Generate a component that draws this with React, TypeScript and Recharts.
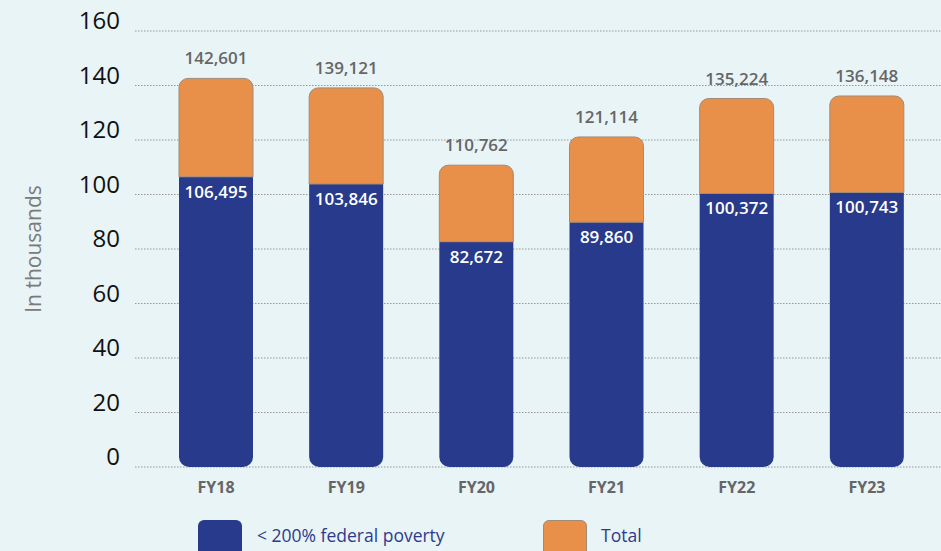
import React from 'react';
import { BarChart, Bar, XAxis, YAxis, CartesianGrid, LabelList, Legend } from 'recharts';

const categories = ['FY18', 'FY19', 'FY20', 'FY21', 'FY22', 'FY23'];
const povertyValues = [106495, 103846, 82672, 89860, 100372, 100743];
const totalValues = [142601, 139121, 110762, 121114, 135224, 136148];
const yTicks = [0, 20, 40, 60, 80, 100, 120, 140, 160];
const seriesNames = ['< 200% federal poverty', 'Total'];
const axisTitle = 'In thousands';

const BLUE = '#283a8b';
const ORANGE = '#e8904a';
const BG = '#e8f4f6';
const FONT = '"Open Sans", "Noto Sans", sans-serif';

const fmt = (n: number) => n.toLocaleString('en-US');

const data = categories.map((c, i) => ({
  name: c,
  poverty: povertyValues[i] / 1000,
  rest: (totalValues[i] - povertyValues[i]) / 1000,
  povertyLabel: fmt(povertyValues[i]),
  totalLabel: fmt(totalValues[i]),
}));

const YTick = (props: any) => {
  const { y, payload } = props;
  return (
    <text x={120} y={y - 2} textAnchor="end" fontSize={24} fill="#111" fontFamily={FONT}>
      {payload.value}
    </text>
  );
};

const XTick = (props: any) => {
  const { x, y, payload } = props;
  return (
    <text x={x} y={y + 18} textAnchor="middle" fontSize={16} fontWeight={700} fill="#666" fontFamily={FONT}>
      {payload.value}
    </text>
  );
};

const TotalLabel = (props: any) => {
  const { x, y, width, value } = props;
  return (
    <text x={x + width / 2} y={y - 14} textAnchor="middle" fontSize={17} fontWeight={600} fill="#666" fontFamily={FONT}>
      {value}
    </text>
  );
};

const PovertyLabel = (props: any) => {
  const { x, y, width, value } = props;
  return (
    <text x={x + width / 2} y={y + 21} textAnchor="middle" fontSize={17} fontWeight={600} fill="#ffffff" fontFamily={FONT}>
      {value}
    </text>
  );
};

const LegendContent = () => (
  <div style={{ position: 'relative', width: 941, height: 551, pointerEvents: 'none', fontFamily: FONT }}>
    <div style={{ position: 'absolute', left: 198, top: 520, width: 44, height: 40, background: BLUE, borderRadius: 6 }} />
    <div style={{ position: 'absolute', left: 257, top: 524, fontSize: 17.5, color: '#2e3b8c', lineHeight: '22px', whiteSpace: 'nowrap' }}>
      {seriesNames[0]}
    </div>
    <div style={{ position: 'absolute', left: 543, top: 520, width: 44, height: 40, background: ORANGE, borderRadius: 6, boxSizing: 'border-box', border: '1px solid #a08a78' }} />
    <div style={{ position: 'absolute', left: 601, top: 524, fontSize: 17.5, color: '#2e3b8c', lineHeight: '22px', whiteSpace: 'nowrap' }}>
      {seriesNames[1]}
    </div>
  </div>
);

export default function App() {
  return (
    <div style={{ position: 'absolute', left: 0, top: 0, width: 941, height: 551, background: BG, overflow: 'hidden' }}>
      <BarChart width={941} height={551} data={data} margin={{ top: 31, right: 0, bottom: 54, left: 0 }}>
        <CartesianGrid vertical={false} stroke="#999" strokeDasharray="1.5 1.5" />
        <XAxis
          dataKey="name"
          height={30}
          axisLine={false}
          tickLine={false}
          tick={<XTick />}
          padding={{ left: 16, right: 9 }}
        />
        <YAxis
          width={135}
          domain={[0, 160]}
          ticks={yTicks}
          axisLine={false}
          tickLine={false}
          tick={<YTick />}
          label={{
            value: axisTitle,
            content: () => (
              <text
                x={33}
                y={249}
                transform="rotate(-90 33 249)"
                textAnchor="middle"
                dominantBaseline="central"
                fontSize={21}
                fill="#7a7a7a"
                fontFamily={FONT}
              >
                {axisTitle}
              </text>
            ),
          }}
        />
        <Legend
          layout="vertical"
          verticalAlign="middle"
          align="center"
          content={<LegendContent />}
          wrapperStyle={{ position: 'absolute', left: 0, top: 0, width: 941, height: 551 }}
        />
        <Bar dataKey="poverty" stackId="a" fill={BLUE} barSize={74} radius={[0, 0, 10, 10]} isAnimationActive={false}>
          <LabelList dataKey="povertyLabel" content={<PovertyLabel />} />
        </Bar>
        <Bar dataKey="rest" stackId="a" fill={ORANGE} stroke="#a08a78" strokeWidth={1} barSize={74} radius={[9, 9, 0, 0]} isAnimationActive={false}>
          <LabelList dataKey="totalLabel" content={<TotalLabel />} />
        </Bar>
      </BarChart>
    </div>
  );
}
